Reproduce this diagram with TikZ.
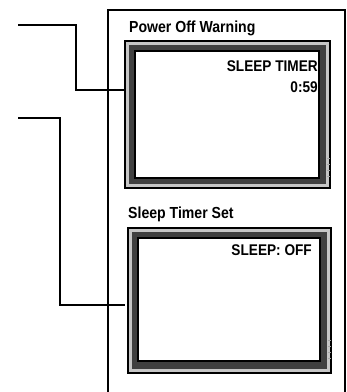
\documentclass[tikz,border=0pt]{standalone}
\usepackage{fontspec}
\setmainfont{Liberation Sans}
\newfontfamily\narrowfont[FakeStretch=0.88]{Liberation Sans}
\begin{document}
\begin{tikzpicture}[x=1pt,y=-1pt,
    lead/.style={line width=2.4pt},
    caption/.style={anchor=base west,inner sep=0pt,font=\narrowfont\fontsize{16}{18}\selectfont\bfseries},
    readout/.style={anchor=base east,inner sep=0pt,font=\narrowfont\fontsize{15.5}{17}\selectfont\bfseries},
    tick/.style={gray!70,line width=0.8pt}]
    \useasboundingbox (0,0) rectangle (347,392);

    % Panel outline
    \draw[line width=1.8pt] (108,392) |- (345,10) -- (345,392);

    % Upper screen frame
    \draw[line width=1.2pt,fill=gray!45] (125,41) rectangle (330,188);
    \fill[black!75] (129,45) rectangle (326,184);
    \draw[line width=2pt,fill=white] (135,51) rectangle (319,178);
    \foreach \y in {158,164,170,176} \draw[tick] (326.5,\y) -- (329.5,\y);
    \coordinate (scr1) at (125,90);

    % Lower screen frame
    \draw[line width=1.2pt,fill=gray!45] (128,228) rectangle (331,373);
    \fill[black!75] (132,232) rectangle (327,369);
    \draw[line width=2pt,fill=white] (138,238) rectangle (320,361);
    \foreach \y in {340,346,352,358} \draw[tick] (327.5,\y) -- (330.5,\y);
    \coordinate (scr2) at (125,305);

    % Titles
    \node[caption] (warn) at (129,32) {Power Off Warning};
    \node[caption] (set) at (128,218) {Sleep Timer Set};

    % Screen texts
    \node[readout] (timer) at (318,71) {SLEEP TIMER};
    \node[readout] (count) at (318,92) {0:59};
    \node[readout] (off) at (312,255) {SLEEP: OFF};

    % Leader lines
    \coordinate (lead1) at (18,25);
    \coordinate (lead2) at (18,118);
    \draw[lead] (lead1) -- ++(58,0) |- (scr1);
    \draw[lead] (lead2) -- ++(42,0) |- (scr2);
\end{tikzpicture}
\end{document}
